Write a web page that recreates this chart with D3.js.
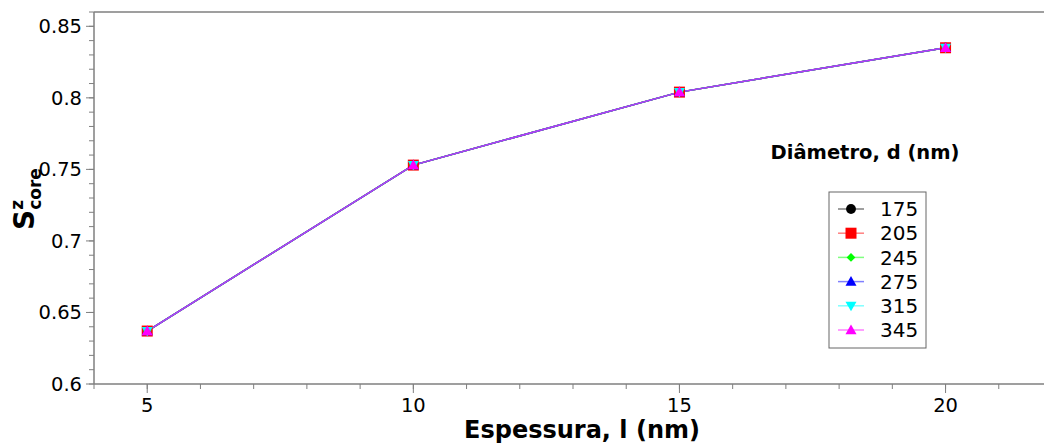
<!DOCTYPE html>
<html>
<head>
<meta charset="utf-8">
<script src="https://cdn.jsdelivr.net/npm/d3@7"></script>
<style>
  body { margin: 0; background: #fff; }
  text { font-family: "DejaVu Sans", sans-serif; }
</style>
</head>
<body>
<svg id="chart" width="1044" height="444"></svg>
<script>
// thickness l (nm)
const thickness = [5, 10, 15, 20];
// diameters d (nm), one series each
const diameters = ['175', '205', '245', '275', '315', '345'];
const seriesColors = ['#000000', '#ff0000', '#00ff00', '#0000ff', '#00ffff', '#ff00ff'];
const seriesSymbols = ['circle', 'square', 'diamond', 'triangle', 'triangleDown', 'triangle'];
const s175 = [0.637, 0.753, 0.804, 0.835];
const s205 = [0.637, 0.753, 0.804, 0.835];
const s245 = [0.637, 0.753, 0.804, 0.835];
const s275 = [0.637, 0.753, 0.804, 0.835];
const s315 = [0.637, 0.753, 0.804, 0.835];
const s345 = [0.637, 0.753, 0.804, 0.835];
const seriesValues = [s175, s205, s245, s275, s315, s345];
const yTicks = [0.6, 0.65, 0.7, 0.75, 0.8, 0.85];
const xTicks = [5, 10, 15, 20];

const svg = d3.select("#chart");
const axisColor = '#7f7f7f';

const x = d3.scaleLinear().domain([4, 22]).range([94, 1052]);
const y = d3.scaleLinear().domain([0.6, 0.86]).range([384, 12]);

// symbol path generator
function symbolPath(kind, size) {
  const h = size / 2;
  if (kind === 'circle') return d3.symbol(d3.symbolCircle, Math.PI * h * h * 0.8)();
  if (kind === 'square') return `M${-h},${-h}H${h}V${h}H${-h}Z`;
  if (kind === 'diamond') return `M0,${-h * 0.8}L${h * 0.8},0L0,${h * 0.8}L${-h * 0.8},0Z`;
  if (kind === 'triangle') return `M0,${-h}L${h},${h * 0.75}L${-h},${h * 0.75}Z`;
  if (kind === 'triangleDown') return `M0,${h}L${h},${-h * 0.75}L${-h},${-h * 0.75}Z`;
}

// axes
const yMinor = d3.range(0.6, 0.861, 0.01).map(v => +v.toFixed(2));
const xMinor = d3.range(4, 22.01, 1);

const yAxis = svg.append("g").attr("transform", "translate(94,0)");
yAxis.append("line").attr("x1", 0).attr("x2", 0).attr("y1", y.range()[1]).attr("y2", y.range()[0])
  .attr("stroke", axisColor).attr("stroke-width", 1.5);
yAxis.selectAll(".minor").data(yMinor).enter().append("line")
  .attr("x1", -5).attr("x2", 0)
  .attr("y1", d => y(d)).attr("y2", d => y(d))
  .attr("stroke", axisColor).attr("stroke-width", 1);
yAxis.selectAll(".major").data(yTicks).enter().append("line")
  .attr("x1", -8).attr("x2", 0)
  .attr("y1", d => y(d)).attr("y2", d => y(d))
  .attr("stroke", axisColor).attr("stroke-width", 1);
yAxis.selectAll(".lab").data(yTicks).enter().append("text")
  .attr("x", -12).attr("y", d => y(d)).attr("dy", "0.36em")
  .attr("text-anchor", "end").style("font-size", "19.5px")
  .text(d => d3.format("")(d));

const xAxis = svg.append("g").attr("transform", "translate(0,384)");
xAxis.append("line").attr("x1", x.range()[0]).attr("x2", x.range()[1]).attr("y1", 0).attr("y2", 0)
  .attr("stroke", axisColor).attr("stroke-width", 1.5);
xAxis.selectAll(".minor").data(xMinor).enter().append("line")
  .attr("x1", d => x(d)).attr("x2", d => x(d))
  .attr("y1", 0).attr("y2", 5)
  .attr("stroke", axisColor).attr("stroke-width", 1);
xAxis.selectAll(".major").data(xTicks).enter().append("line")
  .attr("x1", d => x(d)).attr("x2", d => x(d))
  .attr("y1", 0).attr("y2", 9)
  .attr("stroke", axisColor).attr("stroke-width", 1);
xAxis.selectAll(".lab").data(xTicks).enter().append("text")
  .attr("x", d => x(d)).attr("y", 28)
  .attr("text-anchor", "middle").style("font-size", "19.5px")
  .text(d => d);

// top frame
svg.append("line").attr("x1", 94).attr("x2", 1052).attr("y1", 12).attr("y2", 12)
  .attr("stroke", axisColor).attr("stroke-width", 1.5);

// axis titles
svg.append("text").attr("x", 582).attr("y", 438).attr("text-anchor", "middle")
  .style("font-size", "24px").style("font-weight", "bold")
  .text("Espessura, l (nm)");

const yt = svg.append("text").attr("transform", "translate(34,199) rotate(-90)")
  .attr("text-anchor", "middle").style("font-weight", "bold");
yt.append("tspan").style("font-size", "28px").text("S");
yt.append("tspan").style("font-size", "17px").attr("dy", "-11").text("z");
yt.append("tspan").style("font-size", "17px").attr("dx", "-10").attr("dy", "18").text("core");

// series
const line = d3.line().x((d, i) => x(thickness[i])).y(d => y(d));
diameters.forEach((d, k) => {
  svg.append("path").datum(seriesValues[k])
    .attr("d", line).attr("fill", "none")
    .attr("stroke", seriesColors[k]).attr("stroke-opacity", 0.72).attr("stroke-width", 1.5);
});
diameters.forEach((d, k) => {
  svg.selectAll(".m" + k).data(seriesValues[k]).enter().append("path")
    .attr("transform", (v, i) => `translate(${x(thickness[i])},${y(v)})`)
    .attr("d", symbolPath(seriesSymbols[k], 11))
    .attr("fill", seriesColors[k]);
});

// legend
svg.append("text").attr("x", 865).attr("y", 159).attr("text-anchor", "middle")
  .style("font-size", "19.5px").style("font-weight", "bold")
  .text("Diâmetro, d (nm)");

const legend = svg.append("g");
legend.append("rect").attr("x", 829).attr("y", 192).attr("width", 97).attr("height", 156)
  .attr("fill", "#fff").attr("stroke", "#666").attr("stroke-width", 1);
const rows = legend.selectAll(".row").data(diameters).enter().append("g")
  .attr("transform", (d, i) => `translate(0,${209 + i * 24.2})`);
rows.append("line").attr("x1", 838).attr("x2", 864).attr("y1", 0).attr("y2", 0)
  .attr("stroke", (d, i) => seriesColors[i]).attr("stroke-opacity", 0.5).attr("stroke-width", 1.5);
rows.append("path").attr("transform", "translate(851,0)")
  .attr("d", (d, i) => symbolPath(seriesSymbols[i], 11))
  .attr("fill", (d, i) => seriesColors[i]);
rows.append("text").attr("x", 880).attr("y", 0).attr("dy", "0.36em")
  .style("font-size", "20px").text(d => d);
</script>
</body>
</html>
